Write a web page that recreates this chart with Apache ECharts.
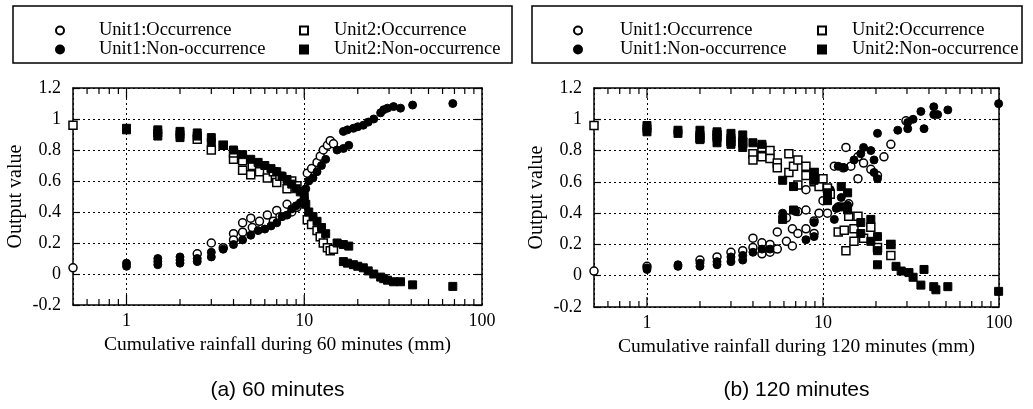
<!DOCTYPE html>
<html><head><meta charset="utf-8">
<script src="https://cdn.jsdelivr.net/npm/echarts@6/dist/echarts.min.js"></script>
<style>html,body{margin:0;padding:0;background:#fff}#c{width:1033px;height:409px}</style>
</head><body><div id="c"></div>
<script>
// ---- text ----
const seriesNames = ['Unit1:Occurrence', 'Unit1:Non-occurrence', 'Unit2:Occurrence', 'Unit2:Non-occurrence'];
const panelTitles = ['(a) 60 minutes', '(b) 120 minutes'];
const xAxisTitles = ['Cumulative rainfall during 60 minutes (mm)', 'Cumulative rainfall during 120 minutes (mm)'];
const yAxisTitle = 'Output value';
const minorTickValues = [0.6, 0.7, 0.8, 0.9, 2, 3, 4, 5, 6, 7, 8, 9, 20, 30, 40, 50, 60, 70, 80, 90];
const majorTickValues = [1, 10];

// ---- (a) 60 minutes : [rainfall mm, output] ----
const a_unit1_occ = [[0.5,0.04],[2.5,0.13],[3.0,0.2],[3.5,0.17],[4.0,0.26],[4.0,0.22],[4.5,0.33],[4.5,0.27],[5.0,0.36],[5.1,0.30],[5.6,0.34],[6.2,0.38],[6.7,0.34],[7.0,0.41],[7.3,0.37],[8.0,0.45],[8.5,0.40],[9.1,0.43],[10.4,0.65],[11.0,0.68],[11.8,0.72],[12.3,0.76],[12.8,0.80],[13.5,0.83],[14.0,0.86],[14.6,0.84]];
const a_unit1_non = [[1.0,0.05],[1.0,0.07],[1.5,0.06],[1.5,0.08],[1.5,0.10],[2.0,0.07],[2.0,0.09],[2.0,0.11],[2.5,0.08],[2.5,0.10],[3.0,0.11],[3.0,0.14],[3.5,0.16],[4.0,0.19],[4.5,0.22],[5.0,0.25],[5.5,0.28],[6.0,0.29],[6.5,0.31],[7.0,0.33],[7.5,0.37],[8.0,0.38],[8.5,0.42],[9.0,0.44],[9.5,0.46],[10.0,0.49],[10.2,0.55],[10.6,0.60],[11.2,0.62],[11.8,0.66],[12.5,0.70],[13.2,0.74],[15.3,0.80],[16.6,0.81],[17.8,0.83],[16.6,0.92],[17.5,0.93],[18.9,0.94],[20.0,0.95],[21.5,0.96],[22.9,0.98],[24.6,1.00],[26.9,1.04],[28.0,1.06],[29.4,1.07],[31.8,1.08],[34.8,1.07],[40.7,1.09],[68.5,1.10]];
const a_unit2_occ = [[0.5,0.96],[2.5,0.87],[3.0,0.80],[3.5,0.83],[4.0,0.74],[4.0,0.78],[4.5,0.67],[4.5,0.73],[5.0,0.64],[5.1,0.70],[5.6,0.66],[6.2,0.62],[6.7,0.66],[7.0,0.59],[7.3,0.63],[8.0,0.55],[8.5,0.60],[9.1,0.57],[10.4,0.35],[11.0,0.32],[11.8,0.28],[12.3,0.24],[12.8,0.20],[13.5,0.17],[14.0,0.15],[14.6,0.16]];
const a_unit2_non = [[1.0,0.94],[1.0,0.93],[1.5,0.93],[1.5,0.91],[1.5,0.89],[2.0,0.92],[2.0,0.90],[2.0,0.88],[2.5,0.91],[2.5,0.89],[3.0,0.88],[3.0,0.85],[3.5,0.83],[4.0,0.80],[4.5,0.77],[5.0,0.74],[5.5,0.72],[6.0,0.70],[6.5,0.68],[7.0,0.66],[7.5,0.63],[8.0,0.61],[8.5,0.58],[9.0,0.55],[9.5,0.53],[10.0,0.50],[10.2,0.45],[10.6,0.40],[11.2,0.37],[11.8,0.34],[12.5,0.30],[13.2,0.26],[15.3,0.20],[16.6,0.19],[17.8,0.18],[16.6,0.08],[17.5,0.07],[18.9,0.06],[20.0,0.05],[21.5,0.04],[22.9,0.02],[24.6,0.00],[26.9,-0.02],[28.0,-0.03],[29.4,-0.04],[31.8,-0.05],[34.8,-0.05],[40.7,-0.07],[68.5,-0.08]];

// ---- (b) 120 minutes ----
const b_unit1_occ = [[0.5,0.03],[1.0,0.06],[2.0,0.10],[2.5,0.12],[3.0,0.15],[3.5,0.16],[4.0,0.24],[4.0,0.18],[4.5,0.21],[4.5,0.14],[5.0,0.20],[5.0,0.15],[5.5,0.28],[5.5,0.17],[6.2,0.37],[6.2,0.22],[6.7,0.30],[6.7,0.19],[7.2,0.41],[7.2,0.27],[8.0,0.42],[8.0,0.30],[8.9,0.35],[8.9,0.27],[9.5,0.40],[10.0,0.48],[10.6,0.40],[11.6,0.70],[12.2,0.44],[13.0,0.69],[13.5,0.82],[14.4,0.70],[15.8,0.76],[15.8,0.62],[17.0,0.72],[18.7,0.68],[20.4,0.64],[22.2,0.76],[24.3,0.84],[29.6,0.99],[8.0,0.55],[14.0,0.46]];
const b_unit1_non = [[1.0,0.04],[1.0,0.05],[1.5,0.06],[1.5,0.07],[2.0,0.06],[2.0,0.08],[2.5,0.07],[2.5,0.09],[3.0,0.09],[3.0,0.12],[3.5,0.10],[3.5,0.13],[4.0,0.15],[4.5,0.17],[5.0,0.17],[5.9,0.40],[7.0,0.41],[8.0,0.23],[8.9,0.34],[8.9,0.25],[11.6,0.36],[11.9,0.43],[12.2,0.70],[13.2,0.69],[13.8,0.45],[15.0,0.74],[16.4,0.78],[17.0,0.82],[18.7,0.80],[19.5,0.74],[19.5,0.66],[20.4,0.62],[20.4,0.91],[26.6,0.93],[30.3,0.98],[30.3,0.94],[32.5,1.00],[36.0,1.05],[37.5,0.94],[42.6,1.08],[42.6,1.03],[44.8,1.03],[51.2,1.06],[99.5,1.10],[12.7,0.50],[11.0,0.55]];
const b_unit2_occ = [[0.5,0.96],[2.0,0.88],[2.5,0.90],[3.0,0.86],[3.5,0.85],[4.0,0.78],[4.0,0.74],[4.5,0.82],[4.5,0.76],[5.0,0.80],[5.0,0.75],[5.5,0.72],[5.5,0.69],[6.4,0.78],[6.4,0.66],[6.8,0.70],[7.2,0.74],[7.2,0.58],[8.0,0.70],[8.0,0.64],[8.9,0.66],[8.9,0.60],[9.5,0.57],[10.0,0.62],[10.6,0.56],[11.0,0.52],[12.2,0.28],[13.2,0.29],[13.5,0.16],[14.0,0.38],[15.0,0.30],[15.8,0.38],[17.0,0.24],[18.7,0.31],[20.4,0.18],[24.3,0.20],[24.3,0.13],[15.0,0.22]];
const b_unit2_non = [[1.0,0.96],[1.0,0.94],[1.0,0.92],[1.5,0.93],[1.5,0.91],[2.0,0.93],[2.0,0.90],[2.0,0.87],[2.5,0.92],[2.5,0.88],[2.5,0.85],[3.0,0.91],[3.0,0.88],[3.0,0.84],[3.5,0.90],[3.5,0.86],[3.5,0.82],[4.0,0.85],[4.5,0.84],[5.9,0.61],[5.9,0.36],[6.8,0.57],[6.8,0.42],[8.9,0.66],[8.9,0.61],[10.6,0.53],[10.6,0.48],[12.7,0.57],[12.7,0.44],[13.8,0.53],[13.8,0.42],[16.4,0.34],[16.4,0.27],[18.7,0.36],[18.7,0.22],[20.4,0.25],[20.4,0.16],[24.3,0.20],[20.4,0.07],[26.0,0.06],[27.8,0.03],[30.8,0.02],[32.5,-0.01],[36.0,-0.06],[37.5,0.04],[42.6,-0.07],[43.8,-0.09],[51.2,-0.07],[99.5,-0.10]];

const panelData = [
  [a_unit1_occ, a_unit1_non, a_unit2_occ, a_unit2_non],
  [b_unit1_occ, b_unit1_non, b_unit2_occ, b_unit2_non]
];
const X_MIN = 0.5, X_MAX = 100, Y_MIN = -0.2, Y_MAX = 1.2, Y_STEP = 0.2;

const SERIF = "'Liberation Serif','Times New Roman',serif";
const SANS = "'Liberation Sans',Arial,sans-serif";
const grids = [
  {left: 73, top: 88, width: 409, height: 217},
  {left: 594, top: 88, width: 405, height: 219}
];
const styles = [
  {symbol: 'circle', itemStyle: {color: '#fff', borderColor: '#000', borderWidth: 1.5, opacity: 1}},
  {symbol: 'circle', itemStyle: {color: '#000', borderColor: '#000', borderWidth: 1, opacity: 1}},
  {symbol: 'rect', itemStyle: {color: '#fff', borderColor: '#000', borderWidth: 1.5, opacity: 1}},
  {symbol: 'rect', itemStyle: {color: '#000', borderColor: '#000', borderWidth: 1, opacity: 1}}
];
const axLine = {show: true, onZero: false, lineStyle: {color: '#000', width: 1.5}};
const xAxes = [], yAxes = [], series = [], legends = [], graphics = [];

function tickSeries(xi, yi, values, yv, len, dir) {
  return {
    type: 'scatter', xAxisIndex: xi, yAxisIndex: yi, silent: true, clip: false, z: 4,
    symbol: 'rect', symbolSize: [1.2, len], symbolOffset: [0, dir * len / 2],
    itemStyle: {color: '#000', opacity: 1}, data: values.map(v => [v, yv])
  };
}

grids.forEach((g, i) => {
  const xi = xAxes.length;
  xAxes.push({
    gridIndex: i, type: 'log', logBase: 10, min: X_MIN, max: X_MAX, position: 'bottom', axisLine: axLine,
    axisTick: {show: false},
    axisLabel: {color: '#000', fontFamily: SERIF, fontSize: 18, margin: 7,
      formatter: v => (v >= 1 ? String(Math.round(v)) : '')},
    splitLine: {show: true, lineStyle: {color: '#000', width: 1, type: [2, 3]}},
    name: xAxisTitles[i], nameLocation: 'middle', nameGap: 25,
    nameTextStyle: {color: '#000', fontFamily: SERIF, fontSize: 19.5}
  });
  xAxes.push({
    gridIndex: i, type: 'log', logBase: 10, min: X_MIN, max: X_MAX, position: 'top', axisLine: axLine,
    axisTick: {show: false}, axisLabel: {show: false}, splitLine: {show: false}
  });
  const yi = yAxes.length;
  yAxes.push({
    gridIndex: i, type: 'value', min: Y_MIN, max: Y_MAX, interval: Y_STEP, position: 'left',
    axisLine: axLine,
    axisTick: {show: true, inside: true, length: 7, lineStyle: {color: '#000', width: 1.2}},
    axisLabel: {color: '#000', fontFamily: SERIF, fontSize: 18, margin: 12},
    splitLine: {show: true, lineStyle: {color: '#000', width: 1, type: [2, 3]}},
    name: yAxisTitle, nameLocation: 'middle', nameGap: 47, nameRotate: 90,
    nameTextStyle: {color: '#000', fontFamily: SERIF, fontSize: 20}
  });
  yAxes.push({
    gridIndex: i, type: 'value', min: Y_MIN, max: Y_MAX, interval: Y_STEP, position: 'right',
    axisLine: axLine, axisLabel: {show: false}, splitLine: {show: false},
    axisTick: {show: true, inside: true, length: 7, lineStyle: {color: '#000', width: 1.2}}
  });
  // log ticks on bottom and top edges (inward)
  series.push(tickSeries(xi, yi, minorTickValues, Y_MIN, 6, -1));
  series.push(tickSeries(xi, yi, majorTickValues, Y_MIN, 10, -1));
  series.push(tickSeries(xi, yi, minorTickValues, Y_MAX, 6, 1));
  series.push(tickSeries(xi, yi, majorTickValues, Y_MAX, 10, 1));
  panelData[i].forEach((d, k) => {
    series.push({
      type: 'scatter', name: seriesNames[k], xAxisIndex: xi, yAxisIndex: yi,
      symbol: styles[k].symbol, symbolSize: 8, itemStyle: styles[k].itemStyle,
      clip: false, data: d, z: 3
    });
  });
});

const legendBoxes = [
  {x: 13, w: 499, c1: 55, p1: 30, c2: 299, p2: 21},
  {x: 532, w: 490, c1: 573, p1: 33, c2: 817, p2: 21}
];
legendBoxes.forEach(b => {
  [[b.c1, b.p1, [seriesNames[0], seriesNames[1]]], [b.c2, b.p2, [seriesNames[2], seriesNames[3]]]].forEach(([l, p, names]) => {
    legends.push({
      orient: 'vertical', left: l, top: 21, padding: 0, itemGap: 0, itemWidth: 8, itemHeight: 8,
      selectedMode: false, data: names,
      textStyle: {color: '#000', fontFamily: SERIF, fontSize: 18.5, lineHeight: 18, padding: [0, 0, 0, p]}
    });
  });
  graphics.push({type: 'rect', shape: {x: b.x, y: 6, width: b.w, height: 57},
    style: {fill: 'none', stroke: '#000', lineWidth: 1.5}, z: 0});
});
panelTitles.forEach((t, i) => {
  graphics.push({type: 'text', x: grids[i].left + grids[i].width / 2, y: 390,
    style: {text: t, font: '21px ' + SANS, fill: '#000', align: 'center', verticalAlign: 'middle'}});
});

const chart = echarts.init(document.getElementById('c'), null, {renderer: 'canvas'});
chart.setOption({
  animation: false,
  backgroundColor: '#fff',
  grid: grids,
  xAxis: xAxes,
  yAxis: yAxes,
  legend: legends,
  graphic: graphics,
  series: series
});
</script>
</body></html>
